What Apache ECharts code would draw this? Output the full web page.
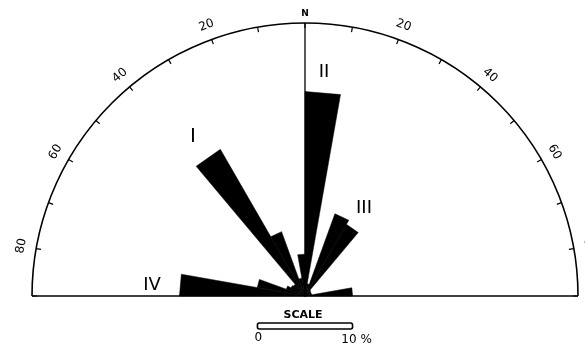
<!DOCTYPE html>
<html>
<head>
<meta charset="utf-8">
<script src="https://cdn.jsdelivr.net/npm/echarts@6/dist/echarts.min.js"></script>
<style>
  html, body { margin: 0; padding: 0; background: #fff; }
  #rose { width: 585px; height: 351px; }
</style>
</head>
<body>
<div id="rose"></div>
<script>
// 10 degree bins, bearing of the start of each bin (negative = west of N)
const binStarts = [-90, -80, -70, -60, -50, -40, -30, -20, -10, 0, 10, 20, 30, 40, 50, 60, 70, 80]
// percent of readings in each bin
const binPercent = [13.2, 5.1, 2.1, 1.7, 1.6, 17.8, 7.2, 1.9, 4.4, 21.5, 1.3, 9.2, 8.7, 0.8, 0.7, 0.7, 0.7, 5.0]
// labels round the arc
const tickAngles = [-80, -60, -40, -20, 0, 20, 40, 60, 80]
const tickLabels = ['80', '60', '40', '20', 'N', '20', '40', '60', '80']
const scalePercent = 10
const radiusMax = 28.7

const chart = echarts.init(document.getElementById('rose'))

const option = {
  backgroundColor: '#fff',
  animation: false,
  polar: {
    center: [305, 296],
    radius: 273
  },
  angleAxis: {
    type: 'value',
    min: -90,
    max: 90,
    interval: 10,
    startAngle: 180,
    endAngle: 0,
    clockwise: true,
    axisLine: { lineStyle: { color: '#000', width: 1.6 } },
    axisTick: { inside: true, length: 5, lineStyle: { color: '#000', width: 1.2 } },
    axisLabel: { show: false },
    splitLine: { show: false }
  },
  radiusAxis: {
    type: 'value',
    min: 0,
    max: radiusMax,
    show: false
  },
  graphic: [
    { type: 'text', x: 193, y: 137, style: { text: 'I', font: '20px "DejaVu Sans"', fill: '#000', align: 'center', verticalAlign: 'middle' } },
    { type: 'text', x: 324, y: 72, style: { text: 'II', font: '18px "DejaVu Sans"', fill: '#000', align: 'center', verticalAlign: 'middle' } },
    { type: 'text', x: 364, y: 208, style: { text: 'III', font: '18px "DejaVu Sans"', fill: '#000', align: 'center', verticalAlign: 'middle' } },
    { type: 'text', x: 152, y: 285, style: { text: 'IV', font: '18px "DejaVu Sans"', fill: '#000', align: 'center', verticalAlign: 'middle' } }
  ],
  series: [
    {
      // baseline and north line
      type: 'custom',
      coordinateSystem: 'polar',
      data: [[0, 0]],
      silent: true,
      renderItem(params, api) {
        const c = api.coord([0, 0])
        const n = api.coord([radiusMax, 0])
        const w = api.coord([radiusMax, -90])
        const e = api.coord([radiusMax, 90])
        return {
          type: 'group',
          children: [
            { type: 'line', shape: { x1: w[0], y1: w[1], x2: e[0], y2: e[1] }, style: { stroke: '#000', lineWidth: 1.6 } },
            { type: 'line', shape: { x1: c[0], y1: c[1], x2: n[0], y2: n[1] }, style: { stroke: '#000', lineWidth: 1.3 } }
          ]
        }
      }
    },
    {
      // rose petals
      type: 'custom',
      coordinateSystem: 'polar',
      data: binStarts.map((a, i) => [binPercent[i], a]),
      silent: true,
      renderItem(params, api) {
        const v = api.value(0)
        const a0 = api.value(1)
        const c = api.coord([0, a0])
        const p0 = api.coord([v, a0])
        const p1 = api.coord([v, a0 + 10])
        return {
          type: 'polygon',
          shape: { points: [c, p0, p1] },
          style: { fill: '#000', stroke: '#000', lineWidth: 0.5 }
        }
      }
    },
    {
      // degree labels, tangent to the arc
      type: 'custom',
      coordinateSystem: 'polar',
      data: tickAngles.map((a, i) => [radiusMax, a, i]),
      silent: true,
      renderItem(params, api) {
        const a = api.value(1)
        const label = tickLabels[api.value(2)]
        const isN = label === 'N'
        const p = api.coord([radiusMax * (isN ? 1.036 : 1.055), a])
        return {
          type: 'text',
          x: p[0],
          y: p[1],
          rotation: -a * Math.PI / 180,
          style: {
            text: label,
            fill: '#000',
            font: isN ? 'bold 9px "DejaVu Sans"' : '12px "DejaVu Sans"',
            align: 'center',
            verticalAlign: 'middle'
          }
        }
      }
    },
    {
      // scale bar, length taken from the radius axis
      type: 'custom',
      coordinateSystem: 'polar',
      data: [[scalePercent, 90]],
      silent: true,
      renderItem(params, api) {
        const c = api.coord([0, 90])
        const p = api.coord([api.value(0), 90])
        const len = p[0] - c[0]
        const x0 = c[0] - len / 2
        const y0 = c[1] + 27
        return {
          type: 'group',
          children: [
            { type: 'rect', shape: { x: x0, y: y0, width: len, height: 6, r: 2 }, style: { fill: '#fff', stroke: '#000', lineWidth: 1.6 } },
            { type: 'text', x: c[0] - 2, y: y0 - 8, style: { text: 'SCALE', font: 'bold 11px "DejaVu Sans"', fill: '#000', align: 'center', verticalAlign: 'middle' } },
            { type: 'text', x: x0 + 1, y: y0 + 15, style: { text: '0', font: '12px "DejaVu Sans"', fill: '#000', align: 'center', verticalAlign: 'middle' } },
            { type: 'text', x: x0 + len + 4, y: y0 + 17, style: { text: '10 %', font: '12px "DejaVu Sans"', fill: '#000', align: 'center', verticalAlign: 'middle' } }
          ]
        }
      }
    }
  ]
}

chart.setOption(option)
</script>
</body>
</html>
